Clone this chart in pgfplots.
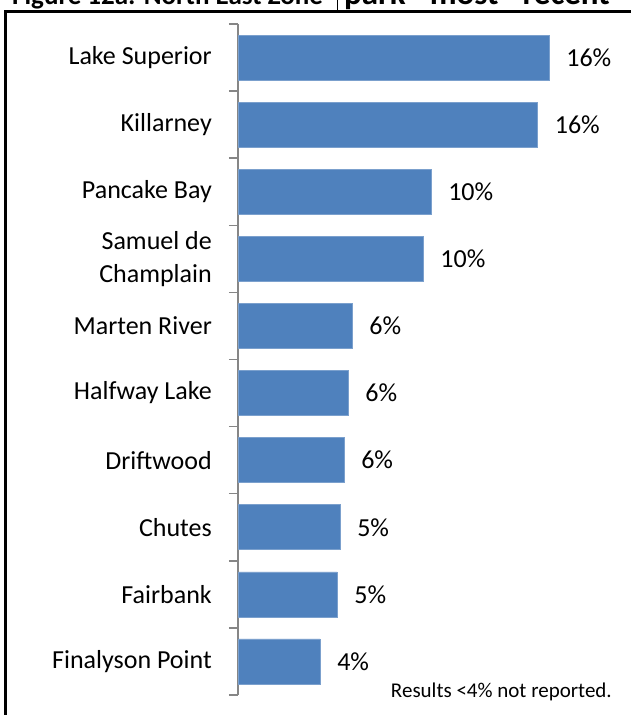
\documentclass[border=0pt]{standalone}
\usepackage{pgfplots}
\pgfplotsset{compat=1.18}
\usepackage{fontspec}
\setmainfont{Carlito}
\definecolor{barblue}{HTML}{4F81BD}
\definecolor{baredge}{HTML}{7BA0CD}
\definecolor{axisgray}{HTML}{868686}
\begin{document}
\begin{tikzpicture}[x=1pt,y=1pt]
\useasboundingbox (0,0) rectangle (631,715);
\clip (0,0) rectangle (631,715);
% frame and the title, cut off at the top as in the source
\draw[line width=3pt] (5.5,-10) -- (5.5,703.5) -- (640,703.5);
\draw[line width=1pt] (337,703.5) -- (337,720);
\node[anchor=base west, inner sep=0pt, font=\fontsize{27}{30}\selectfont\bfseries] at (12,710.5) {Figure 12a: North East Zone};
\node[anchor=base west, inner sep=0pt, font=\fontsize{33}{36}\selectfont\bfseries, text width=400pt, align=left] at (344,710.5) {park\hspace{24pt}most\hspace{24pt}recent};
\begin{axis}[
    at={(238pt,20pt)}, anchor=south west,
    scale only axis, width=384pt, height=671pt,
    xmin=0, xmax=20, ymin=-0.5, ymax=9.5, y dir=reverse,
    hide x axis, axis y line*=left,
    y axis line style={axisgray, line width=2pt},
    xbar, bar width=45pt, bar shift=0pt,
    ytick={0,...,9},
    yticklabels={Lake Superior, Killarney, Pancake Bay, {Samuel de\\Champlain}, Marten River, Halfway Lake, Driftwood, Chutes, Fairbank, Finalyson Point},
    major tick length=0pt,
    extra y ticks={-0.5,0.5,...,9.5},
    extra y tick labels={},
    extra y tick style={major tick length=9pt, tick align=outside, tick style={axisgray, line width=1.5pt}},
    yticklabel style={font=\fontsize{26}{33}\selectfont, align=right, inner sep=0pt, xshift=-26pt, text=black},
    nodes near coords, point meta=explicit symbolic,
    every node near coord/.append style={anchor=west, inner sep=0pt, xshift=17pt, font=\fontsize{26}{30}\selectfont, text=black},
    clip=false,
]
\addplot[fill=barblue, draw=baredge, line width=0.6pt] coordinates {
    (16.2,0) [16\%]
    (15.6,1) [16\%]
    (10.05,2) [10\%]
    (9.64,3) [10\%]
    (5.94,4) [6\%]
    (5.73,5) [6\%]
    (5.52,6) [6\%]
    (5.31,7) [5\%]
    (5.16,8) [5\%]
    (4.27,9) [4\%]
};
\end{axis}
\node[anchor=base east, inner sep=0pt, font=\fontsize{21}{24}\selectfont] at (612,17) {Results <4\% not reported.};
\end{tikzpicture}
\end{document}
